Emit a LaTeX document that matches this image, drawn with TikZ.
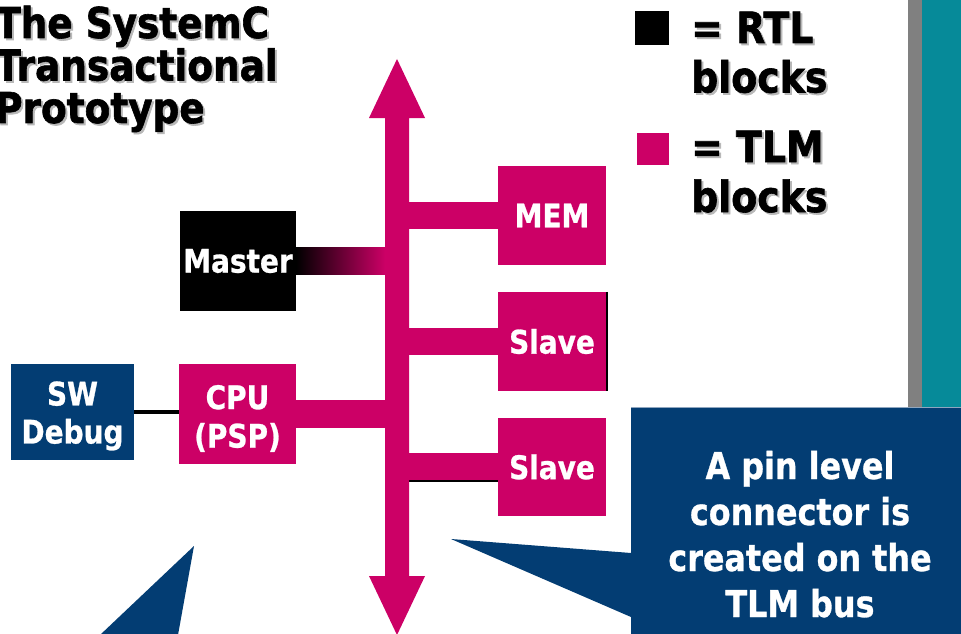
\documentclass[tikz,border=0pt]{standalone}
\usepackage{fontspec}
\setmainfont{DejaVu Sans}[FakeStretch=0.86]
\newfontfamily\heavyfont{DejaVu Sans}[FakeStretch=0.88, FakeBold=1.4]
\newfontfamily\labelfont{DejaVu Sans}[FakeStretch=0.86, FakeBold=0.8]
\usetikzlibrary{calc}

\definecolor{tlm}{HTML}{CC0066}
\definecolor{calloutblue}{HTML}{033D73}
\definecolor{calloutedge}{HTML}{8FA6BF}
\definecolor{panelteal}{HTML}{068A99}
\definecolor{panelgrey}{HTML}{808080}
\definecolor{shadowgrey}{HTML}{B8B8B8}

% stacked lines with a fixed baseline distance; the box baseline is the first line's
\newcommand\rowsc[2]{\vtop{\baselineskip=#1\lineskiplimit=-\maxdimen\halign{\hfil##\hfil\cr#2\crcr}}}
\newcommand\rowsl[2]{\vtop{\baselineskip=#1\lineskiplimit=-\maxdimen\halign{##\hfil\cr#2\crcr}}}

\tikzset{
  block/.style={inner sep=0pt, text=white, font=\labelfont\fontsize{32.5}{38.5}\selectfont\bfseries},
  tlmblock/.style={block, fill=tlm},
  rtlblock/.style={block, fill=black},
  swblock/.style={block, fill=calloutblue},
  stub/.style={draw=tlm, line width=27.5pt, line cap=butt},
  heading/.style={inner sep=0pt, anchor=base west, font=\heavyfont\fontsize{42.5}{42.5}\selectfont\bfseries},
  keytext/.style={inner sep=0pt, anchor=base west, font=\heavyfont\fontsize{43}{49.5}\selectfont\bfseries},
  keysquare/.style={inner sep=0pt, draw=none},
  notetext/.style={inner sep=0pt, anchor=base, text=white, font=\labelfont\fontsize{37}{46}\selectfont\bfseries},
}

\begin{document}
\begin{tikzpicture}[x=1pt, y=-1pt]
\useasboundingbox (0,0) rectangle (961,634);
\clip (0,0) rectangle (961,634);
\fill[white] (0,0) rectangle (961,634);

% side panel on the right
\fill[panelgrey] (908,0) rectangle (922,408);
\fill[panelteal] (922,0) rectangle (961,408);

% heading with its drop shadow
\node[heading, text=shadowgrey] (headingshadow) at (-3,40)
  {\rowsl{42.5pt}{The SystemC\cr Transactional\cr Prototype}};
\node[heading] (heading) at (-5,38)
  {\rowsl{42.5pt}{The SystemC\cr Transactional\cr Prototype}};

% key
\node[keysquare, fill=black, minimum size=34pt] (rtlkey) at (652,28) {};
\node[keysquare, fill=tlm, minimum size=32pt] (tlmkey) at (653,149) {};
\node[keytext, text=shadowgrey] (rtlshadow) at (693,45) {\rowsl{49.5pt}{= RTL\cr blocks}};
\node[keytext] (rtltext) at (691,43) {\rowsl{49.5pt}{= RTL\cr blocks}};
\node[keytext, text=shadowgrey] (tlmshadow) at (693,164) {\rowsl{50pt}{= TLM\cr blocks}};
\node[keytext] (tlmtext) at (691,162) {\rowsl{50pt}{= TLM\cr blocks}};

% blocks
\node[tlmblock, minimum width=108pt, minimum height=99pt] (mem) at (552,215.5) {MEM};
\node[tlmblock, minimum width=108pt, minimum height=99pt] (slaveA) at (552,341.5) {Slave};
\node[tlmblock, minimum width=108pt, minimum height=98pt] (slaveB) at (552,467) {Slave};
\node[rtlblock, minimum width=116pt, minimum height=100pt] (master) at (238,261) {Master};
\node[tlmblock, minimum width=117pt, minimum height=100pt] (cpu) at (237.5,414)
  {\rowsc{38.5pt}{\rule{0pt}{33pt}CPU\cr (PSP)}};
\node[swblock, minimum width=123pt, minimum height=96pt] (swdebug) at (72.5,412)
  {\rowsc{38pt}{\rule{0pt}{32pt}SW\cr Debug}};

% bus axis
\coordinate (shaftC) at (397,0);
\coordinate (shaftL) at (385,0);
\coordinate (busTop) at (397,59);
\coordinate (busBottom) at (397,635);

% connections onto the bus
\draw[stub] (mem.west) -- (mem.west -| shaftC);
\draw[stub] (slaveA.west) -- (slaveA.west -| shaftC);
\draw[stub] (slaveB.west) -- (slaveB.west -| shaftC);
\draw[stub] (cpu.east) -- (cpu.east -| shaftC);
\shade[left color=black, right color=tlm]
  ($(master.east)+(0,-13.5)$) rectangle ($(master.east -| shaftL)+(0,13.5)$);
\draw[line width=1.2pt] ($(slaveB.west)+(0,14)$) -- ($(slaveB.west -| shaftC)+(12,14)$);
\draw[line width=1.8pt] ([xshift=0.9pt]slaveA.north east) -- ([xshift=0.9pt]slaveA.south east);

% debugger link
\draw[line width=4.5pt] (swdebug.east) -- (swdebug.east -| cpu.west);

% the TLM bus, a double-headed arrow
\fill[tlm] (busTop) -- ++(28,59) -- ++(-16,0) -- (409,576) -- ++(16,0)
  -- (busBottom) -- (369,576) -- ++(16,0) -- (385,118) -- ++(-16,0) -- cycle;

% callouts
\fill[calloutblue] (194,546) -- (100,635) -- (178,635) -- cycle;
\fill[calloutblue] (631,407.5) -- (961,407.5) -- (961,635) -- (631,635)
  -- (631,617) -- (451,539) -- (631,553) -- cycle;
\draw[calloutedge, line width=1pt] (631,407.5) -- (961,407.5);
\node[notetext] (note) at (800,479)
  {\rowsc{46pt}{A pin level\cr connector is\cr created on the\cr TLM bus}};
\end{tikzpicture}
\end{document}
